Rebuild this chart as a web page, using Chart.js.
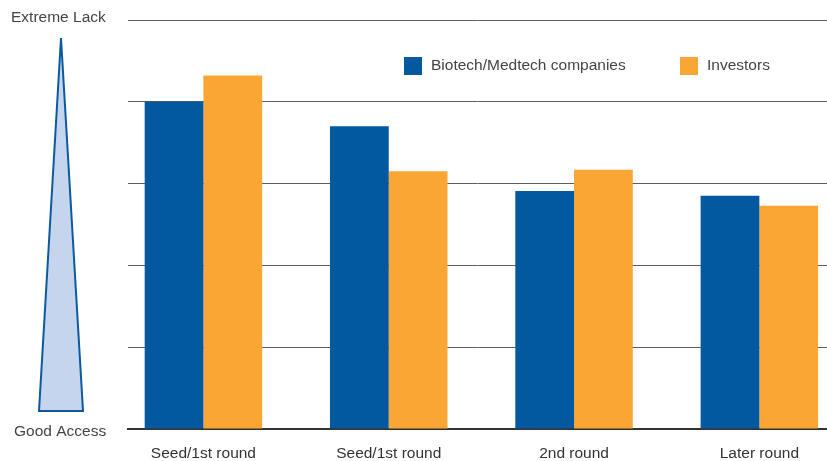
<!DOCTYPE html>
<html>
<head>
<meta charset="utf-8">
<script src="https://cdn.jsdelivr.net/npm/chart.js@4"></script>
<style>
  html, body { margin: 0; padding: 0; background: #fff; overflow: hidden; }
  #wrap { position: relative; width: 827px; height: 461px; }
</style>
</head>
<body>
<div id="wrap"><canvas id="chart" width="827" height="461"></canvas></div>
<script>
  "use strict";

  // funding stages and scores (0 = good access, 5 = extreme lack)
  const stages = ["Seed/1st round", "Seed/1st round", "2nd round", "Later round"];
  const companies = [4.0, 3.7, 2.91, 2.85];
  const investors = [4.32, 3.15, 3.17, 2.73];
  const scaleTop = "Extreme Lack";
  const scaleBottom = "Good Access";

  const BLUE = "#02599f";
  const ORANGE = "#f9a634";
  const FONT = "'Liberation Sans', Arial, sans-serif";

  const points = (vals) => vals.map((v, i) => ({ x: i, y: v }));

  // left-hand access scale: captions and tapered triangle, plus the legend row
  const decorations = {
    id: "decorations",
    afterDraw(chart) {
      const ctx = chart.ctx;
      const area = chart.chartArea;
      ctx.save();
      ctx.font = "15.5px " + FONT;
      ctx.fillStyle = "#444";
      ctx.textBaseline = "middle";
      ctx.textAlign = "left";
      ctx.fillText(scaleTop, 11, area.top - 2);
      ctx.fillText(scaleBottom, 14, area.bottom + 3);

      ctx.beginPath();
      ctx.moveTo(61, area.top + 18);
      ctx.lineTo(83, area.bottom - 18);
      ctx.lineTo(39, area.bottom - 18);
      ctx.closePath();
      ctx.fillStyle = "#c6d5ee";
      ctx.fill();
      ctx.lineWidth = 2;
      ctx.strokeStyle = "#0b5aa0";
      ctx.stroke();

      const legendX = [404, 680];
      chart.data.datasets.forEach((ds, i) => {
        ctx.fillStyle = ds.backgroundColor;
        ctx.fillRect(legendX[i], 57, 18, 18);
        ctx.fillStyle = "#444";
        ctx.fillText(ds.label, legendX[i] + 27, 66);
      });
      ctx.restore();
    }
  };

  new Chart(document.getElementById("chart"), {
    type: "bar",
    data: {
      datasets: [
        { label: "Biotech/Medtech companies", data: points(companies), backgroundColor: BLUE },
        { label: "Investors", data: points(investors), backgroundColor: ORANGE }
      ]
    },
    options: {
      responsive: false,
      animation: false,
      layout: { padding: { left: 128, top: 20, right: 0, bottom: 0 } },
      datasets: { bar: { categoryPercentage: 0.634, barPercentage: 1 } },
      plugins: { legend: { display: false }, tooltip: { enabled: false } },
      scales: {
        x: {
          type: "linear",
          min: -0.407,
          max: 3.365,
          offset: false,
          afterBuildTicks: (axis) => { axis.ticks = stages.map((_, i) => ({ value: i })); },
          afterFit: (axis) => { axis.height = 32; },
          grid: { display: false, drawTicks: false },
          border: { display: true, color: "#333", width: 2 },
          ticks: {
            callback: (v) => stages[v],
            color: "#333",
            padding: 15,
            maxRotation: 0,
            autoSkip: false,
            font: { family: FONT, size: 15.5 }
          }
        },
        y: {
          min: 0,
          max: 5,
          ticks: { display: false, stepSize: 1 },
          border: { display: false },
          grid: { color: "#5e5e5e", lineWidth: 1, drawTicks: false }
        }
      }
    },
    plugins: [decorations]
  });
</script>
</body>
</html>
